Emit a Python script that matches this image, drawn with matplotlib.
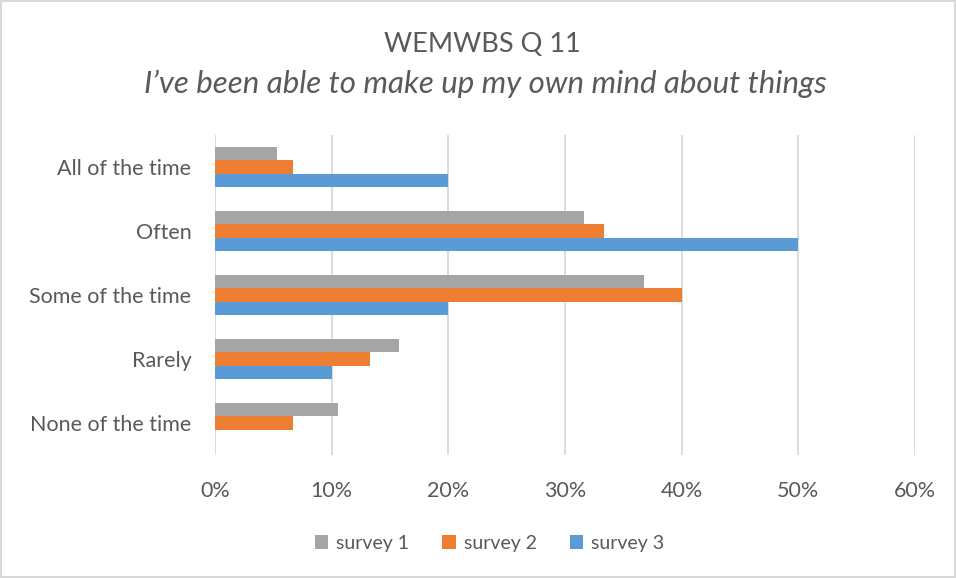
import numpy as np
import matplotlib.pyplot as plt
from matplotlib.ticker import PercentFormatter

# answer categories, top to bottom
categories = ['All of the time', 'Often', 'Some of the time', 'Rarely', 'None of the time']
survey1 = [5.3, 31.6, 36.8, 15.8, 10.5]
survey2 = [6.7, 33.3, 40.0, 13.3, 6.7]
survey3 = [20.0, 50.0, 20.0, 10.0, 0.0]
series_names = ['survey 1', 'survey 2', 'survey 3']
colors = ['#A5A5A5', '#ED7D31', '#5B9BD5']

plt.rcParams['font.family'] = ['Lato', 'DejaVu Sans']
txt = '#595959'

fig = plt.figure(figsize=(9.56, 5.78), dpi=100)
fig.patch.set_edgecolor('#d9d9d9')
fig.patch.set_linewidth(1.5)
ax = fig.add_axes([215 / 956, 123 / 578, 700 / 956, 320 / 578])

y = np.arange(len(categories))
h = 0.625 / 3
for k, (vals, name, c) in enumerate(zip([survey1, survey2, survey3], series_names, colors)):
    ax.barh(y + (k - 1) * h, vals, height=h, color=c, label=name, zorder=3)

ax.set_xlim(0, 60)
ax.set_ylim(4.5, -0.5)
ax.set_xticks(np.arange(0, 61, 10))
ax.xaxis.set_major_formatter(PercentFormatter(decimals=0))
ax.set_yticks(y)
ax.set_yticklabels(categories)
ax.grid(axis='x', color='#d9d9d9', linewidth=1.3, zorder=0)
for s in ax.spines.values():
    s.set_visible(False)
ax.tick_params(length=0, labelsize=15.5, labelcolor=txt)
ax.tick_params(axis='x', pad=19)
ax.tick_params(axis='y', pad=17)

fig.text(0.505, 1 - 45 / 578, 'WEMWBS Q 11', ha='center', va='center', fontsize=19.5, color=txt)
fig.text(0.508, 1 - 84 / 578, 'I\u2019ve been able to make up my own mind about things',
         ha='center', va='center', fontsize=22.5, color=txt, style='italic')

fig.legend(loc='center', bbox_to_anchor=(0.512, 1 - 543 / 578), ncol=3, frameon=False,
           fontsize=14, labelcolor=txt, handlelength=0.7, handleheight=0.7,
           handletextpad=0.4, columnspacing=1.7)

fig.savefig('out.png', dpi=100, edgecolor=fig.get_edgecolor())
